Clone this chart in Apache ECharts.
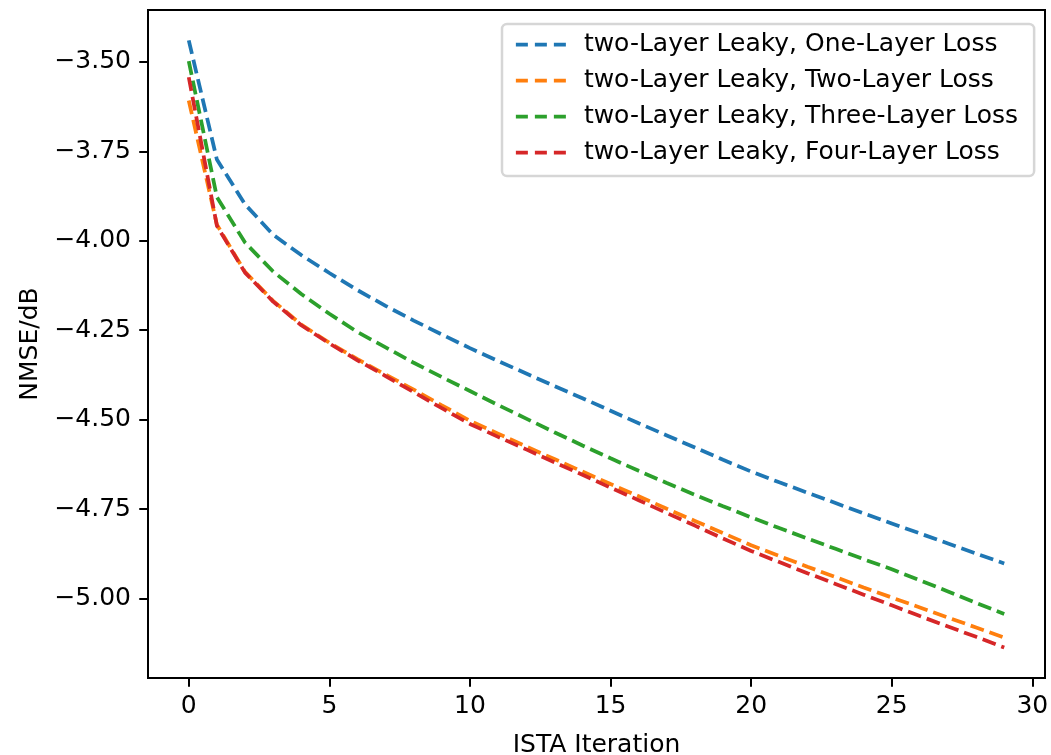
<!DOCTYPE html>
<html>
<head>
<meta charset="utf-8">
<script src="https://cdn.jsdelivr.net/npm/echarts@6/dist/echarts.min.js"></script>
<style>
html,body{margin:0;padding:0;background:#fff;}
#chart{width:1051px;height:755px;}
</style>
</head>
<body>
<div id="chart"></div>
<script>
// ---- data ----
const iterations = [0,1,2,3,4,5,6,7,8,9,10,11,12,13,14,15,16,17,18,19,20,21,22,23,24,25,26,27,28,29];
const seriesNames = [
  "two-Layer Leaky, One-Layer Loss",
  "two-Layer Leaky, Two-Layer Loss",
  "two-Layer Leaky, Three-Layer Loss",
  "two-Layer Leaky, Four-Layer Loss"
];
const oneLayerLoss = [-3.440,-3.773,-3.898,-3.983,-4.040,-4.090,-4.138,-4.182,-4.223,-4.262,-4.300,-4.336,-4.371,-4.406,-4.440,-4.475,-4.510,-4.544,-4.578,-4.612,-4.645,-4.675,-4.704,-4.733,-4.762,-4.790,-4.818,-4.846,-4.874,-4.902];
const twoLayerLoss = [-3.608,-3.955,-4.087,-4.168,-4.234,-4.285,-4.331,-4.374,-4.416,-4.460,-4.503,-4.539,-4.575,-4.610,-4.645,-4.680,-4.714,-4.749,-4.783,-4.817,-4.851,-4.881,-4.911,-4.940,-4.969,-4.997,-5.025,-5.053,-5.081,-5.109];
const threeLayerLoss = [-3.498,-3.878,-4.005,-4.086,-4.149,-4.204,-4.255,-4.298,-4.341,-4.381,-4.420,-4.459,-4.497,-4.535,-4.572,-4.608,-4.643,-4.677,-4.710,-4.742,-4.773,-4.803,-4.832,-4.861,-4.890,-4.918,-4.949,-4.980,-5.012,-5.043];
const fourLayerLoss = [-3.543,-3.958,-4.089,-4.170,-4.236,-4.287,-4.334,-4.378,-4.423,-4.468,-4.512,-4.548,-4.583,-4.619,-4.654,-4.690,-4.725,-4.761,-4.796,-4.832,-4.867,-4.898,-4.929,-4.959,-4.989,-5.019,-5.049,-5.078,-5.107,-5.137];
const xTicks = [0,5,10,15,20,25,30];
const yTicks = [-5.00,-4.75,-4.50,-4.25,-4.00,-3.75,-3.50];

const colors = ['#1f77b4','#ff7f0e','#2ca02c','#d62728'];
const allSeries = [oneLayerLoss, twoLayerLoss, threeLayerLoss, fourLayerLoss];
const FONT = 'DejaVu Sans';

const chart = echarts.init(document.getElementById('chart'), null, {renderer:'canvas'});
const option = {
  animation: false,
  backgroundColor: '#fff',
  grid: {left:148, right:6, top:10, bottom:77, containLabel:false, outerBoundsMode:'none',
         show:true, borderColor:'#000', borderWidth:2, backgroundColor:'transparent'},
  legend: {
    orient:'vertical', left:502, top:24,
    padding:[8,16,11,12],
    itemWidth:50, itemHeight:25, itemGap:11,
    itemStyle:{opacity:0},
    lineStyle:{width:3.75, type:[12,7]},
    backgroundColor:'#fff', borderColor:'rgba(204,204,204,0.8)', borderWidth:2.5, borderRadius:5,
    textStyle:{fontFamily:FONT, fontSize:25, color:'#000', lineHeight:25, padding:[0,0,0,13]},
    data: seriesNames
  },
  xAxis: {
    type:'value', min:-1.45, max:30.45,
    name:'ISTA Iteration', nameLocation:'middle', nameGap:55,
    nameTextStyle:{fontFamily:FONT, fontSize:25, color:'#000'},
    splitLine:{show:false},
    axisLine:{show:true, onZero:false, lineStyle:{color:'#000', width:2}},
    axisTick:{show:true, inside:false, length:8.75, lineStyle:{color:'#000', width:2}, customValues:xTicks},
    axisLabel:{fontFamily:FONT, fontSize:25, color:'#000', margin:16, customValues:xTicks,
      formatter:v=>String(Math.round(v))}
  },
  yAxis: {
    type:'value', min:-5.222, max:-3.355,
    name:'NMSE/dB', nameLocation:'middle', nameGap:104, nameRotate:90,
    nameTextStyle:{fontFamily:FONT, fontSize:25, color:'#000'},
    splitLine:{show:false},
    axisLine:{show:true, onZero:false, lineStyle:{color:'#000', width:2}},
    axisTick:{show:true, inside:false, length:8.75, lineStyle:{color:'#000', width:2}, customValues:yTicks},
    axisLabel:{fontFamily:FONT, fontSize:25, color:'#000', margin:17, customValues:yTicks,
      formatter:v=>(v<0?'\u2212':'')+Math.abs(v).toFixed(2)}
  },
  series: allSeries.map((vals,i)=>({
    name: seriesNames[i],
    type:'line',
    symbol:'none',
    color: colors[i],
    lineStyle:{color:colors[i], width:3.75, type:[13.9,6]},
    data: iterations.map((x,j)=>[x, vals[j]]),
    z: 2+i
  }))
};
chart.setOption(option);
</script>
</body>
</html>
